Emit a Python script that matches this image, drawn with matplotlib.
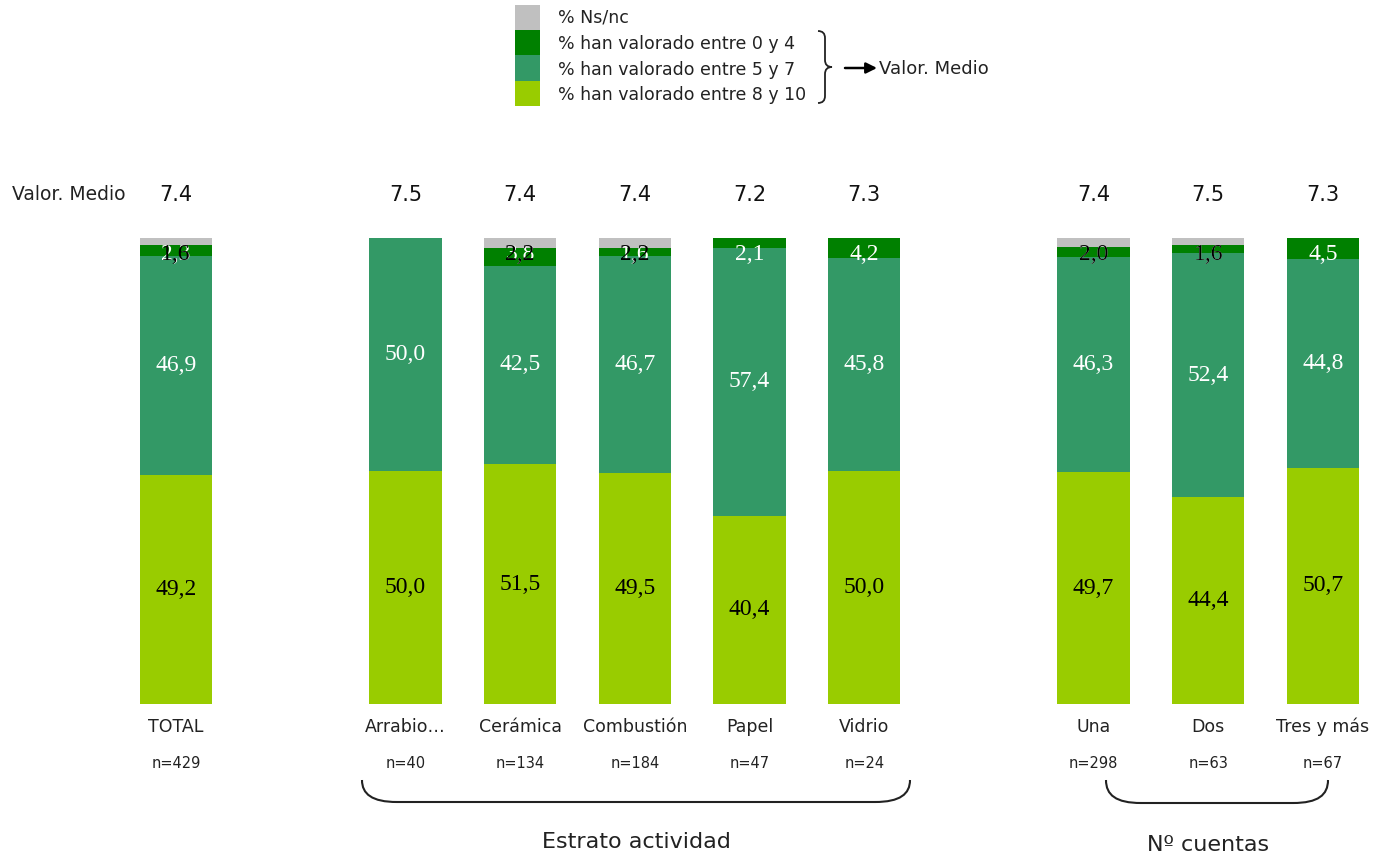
import matplotlib
matplotlib.use("Agg")
import matplotlib.pyplot as plt
from matplotlib.path import Path
from matplotlib.patches import PathPatch, Rectangle
from matplotlib.transforms import blended_transform_factory

# ---------------- data ----------------
categories = ["TOTAL", "Arrabio…", "Cerámica", "Combustión", "Papel", "Vidrio",
              "Una", "Dos", "Tres y más"]
pct_8_10 = [49.2, 50.0, 51.5, 49.5, 40.4, 50.0, 49.7, 44.4, 50.7]
pct_5_7 = [46.9, 50.0, 42.5, 46.7, 57.4, 45.8, 46.3, 52.4, 44.8]
pct_0_4 = [2.3, 0.0, 3.8, 1.6, 2.1, 4.2, 2.0, 1.6, 4.5]
pct_nsnc = [1.6, 0.0, 2.2, 2.2, 0.0, 0.0, 2.0, 1.6, 0.0]
mean_values = ["7.4", "7.5", "7.4", "7.4", "7.2", "7.3", "7.4", "7.5", "7.3"]
n_sizes = [429, 40, 134, 184, 47, 24, 298, 63, 67]
legend_labels = ["% Ns/nc", "% han valorado entre 0 y 4",
                 "% han valorado entre 5 y 7", "% han valorado entre 8 y 10"]
group_titles = ["Estrato actividad", "Nº cuentas"]

# ---------------- layout / style ----------------
slots = [0, 2, 3, 4, 5, 6, 8, 9, 10]
C_NS, C_04, C_57, C_810 = "#C0C0C0", "#008000", "#339966", "#99CC00"
SANS = ["DejaVu Sans"]
SERIF = ["Liberation Serif", "DejaVu Serif"]
W, H = 1374, 859


def fmt(v):
    return f"{v:.1f}".replace(".", ",")


fig = plt.figure(figsize=(W / 100, H / 100), dpi=100)

# main axes: slot 0 centred at x=176px, slot spacing 114.7px; y 0 at 704px, 100 at 238px
sp = 114.7
ax = fig.add_axes([0, (H - 704) / H, 1, (704 - 238) / H])
ax.set_xlim(-176 / sp, (W - 176) / sp)
ax.set_ylim(0, 100)
ax.set_axis_off()

# overlay in pixel coordinates
ov = fig.add_axes([0, 0, 1, 1])
ov.set_xlim(0, W)
ov.set_ylim(H, 0)
ov.set_axis_off()
ov.patch.set_alpha(0)

bw = 0.63
b1 = pct_8_10
b2 = [a + b for a, b in zip(b1, pct_5_7)]
b3 = [a + b for a, b in zip(b2, pct_0_4)]
ax.bar(slots, pct_8_10, bw, color=C_810, linewidth=0)
ax.bar(slots, pct_5_7, bw, bottom=b1, color=C_57, linewidth=0)
ax.bar(slots, pct_0_4, bw, bottom=b2, color=C_04, linewidth=0)
ax.bar(slots, pct_nsnc, bw, bottom=b3, color=C_NS, linewidth=0)

lab_fs = 17
for i, x in enumerate(slots):
    ax.text(x, pct_8_10[i] / 2, fmt(pct_8_10[i]), ha="center", va="center",
            fontsize=lab_fs, family=SERIF, color="black")
    ax.text(x, b1[i] + pct_5_7[i] / 2, fmt(pct_5_7[i]), ha="center", va="center",
            fontsize=lab_fs, family=SERIF, color="white")
    if pct_0_4[i] > 0:
        ax.text(x, 96.4, fmt(pct_0_4[i]), ha="center", va="center",
                fontsize=lab_fs, family=SERIF, color="white")
    if pct_nsnc[i] > 0:
        ax.text(x, 96.4, fmt(pct_nsnc[i]), ha="center", va="center",
                fontsize=lab_fs, family=SERIF, color="black")

blend = blended_transform_factory(ax.transData, ov.transData)
for i, x in enumerate(slots):
    ax.text(x, 195, mean_values[i], transform=blend, ha="center", va="center",
            fontsize=15, family=SANS, color="#111111")
    ax.text(x, 727, categories[i], transform=blend, ha="center", va="center",
            fontsize=12.5, family=SANS, color="#222222")
    ax.text(x, 763, f"n={n_sizes[i]}", transform=blend, ha="center", va="center",
            fontsize=10.5, family=SANS, color="#222222")

ov.text(12, 195, "Valor. Medio", ha="left", va="center", fontsize=13.5,
        family=SANS, color="#222222")

# group brackets
def bottom_bracket(x0, x1, ytop, ybot):
    verts = [(x0, ytop), (x0, ybot - 8), (x0 + 10, ybot), (x0 + 35, ybot),
             (x1 - 35, ybot), (x1 - 10, ybot), (x1, ybot - 8), (x1, ytop)]
    codes = [Path.MOVETO, Path.CURVE4, Path.CURVE4, Path.CURVE4,
             Path.LINETO, Path.CURVE4, Path.CURVE4, Path.CURVE4]
    ov.add_patch(PathPatch(Path(verts, codes), fill=False, lw=1.5, ec="#222222"))


bottom_bracket(362, 910, 780, 802)
bottom_bracket(1106, 1328, 780, 803)
ov.text(636, 842, group_titles[0], ha="center", va="center", fontsize=16,
        family=SANS, color="#222222")
ov.text(1208, 845, group_titles[1], ha="center", va="center", fontsize=16,
        family=SANS, color="#222222")

# legend
leg_colors = [C_NS, C_04, C_57, C_810]
for k, (c, t) in enumerate(zip(leg_colors, legend_labels)):
    y0 = 5 + k * 25.2
    ov.add_patch(Rectangle((515, y0), 25, 25.2, color=c, lw=0))
    ov.text(558, y0 + 13 + k * 0.6, t, ha="left", va="center", fontsize=12.5,
            family=SANS, color="#222222")

# right curly brace
bx, tip, top, bot = 818, 832, 31, 103
mid = (top + bot) / 2
verts = [(bx, top), (bx + 7, top), (bx + 7, top + 7), (bx + 7, mid - 7),
         (bx + 7, mid), (tip, mid), (bx + 7, mid), (bx + 7, mid + 7),
         (bx + 7, bot - 7), (bx + 7, bot), (bx, bot)]
codes = [Path.MOVETO, Path.CURVE3, Path.CURVE3, Path.LINETO, Path.CURVE3,
         Path.CURVE3, Path.CURVE3, Path.CURVE3, Path.LINETO, Path.CURVE3, Path.CURVE3]
ov.add_patch(PathPatch(Path(verts, codes), fill=False, lw=1.3, ec="#222222"))
ov.annotate("", xy=(877, 68), xytext=(845, 68),
            arrowprops=dict(arrowstyle="-|>", color="black", lw=1.8,
                            mutation_scale=16, shrinkA=0, shrinkB=0))
ov.text(879, 69, "Valor. Medio", ha="left", va="center", fontsize=13,
        family=SANS, color="#222222")

fig.savefig("out.png", dpi=100)
